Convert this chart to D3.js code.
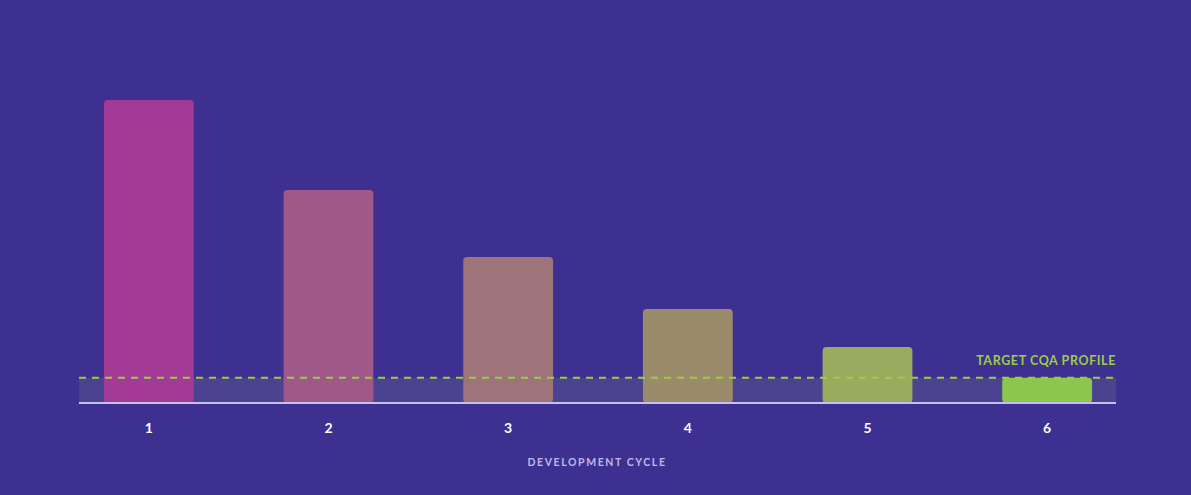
<!DOCTYPE html><html><head><meta charset="utf-8">
<script src="https://cdn.jsdelivr.net/npm/d3@7"></script>
<style>body{margin:0;background:#3d3090;}text{font-family:Lato,sans-serif;}</style></head><body>
<svg id="c" width="1191" height="495"></svg>
<script>
const categories=["1","2","3","4","5","6"];
const values=[100,70.3,48.2,31.0,18.5,8.3];
const colors=["#a33a96","#a05888","#9e747a","#9a8c6a","#98ab5e","#8cc64c"];
const target=8.3;
const svg=d3.select("#c");
svg.append("rect").attr("width",1191).attr("height",495).attr("fill","#3d3090");
const x=d3.scaleBand().domain(categories).range([59,1137]).paddingInner(0.5).paddingOuter(0.25);
const y=d3.scaleLinear().domain([0,100]).range([403,100]);
svg.append("rect").attr("x",79).attr("width",1037).attr("y",y(target)).attr("height",y(0)-y(target)).attr("fill","#4b4390");
svg.selectAll(".b").data(values).join("rect").attr("x",(d,i)=>x(categories[i])).attr("width",x.bandwidth())
 .attr("y",d=>y(d)).attr("height",d=>y(0)-y(d)).attr("rx",4).attr("fill",(d,i)=>colors[i]);
svg.append("line").attr("x1",79).attr("x2",1116).attr("y1",y(target)).attr("y2",y(target))
 .attr("stroke","#9ccc48").attr("stroke-width",2).attr("stroke-dasharray","7,6");
svg.append("line").attr("x1",79).attr("x2",1116).attr("y1",y(0)).attr("y2",y(0)).attr("stroke","#c8c0ec").attr("stroke-width",2);
svg.append("text").attr("x",1116).attr("y",y(target)-13).attr("text-anchor","end").attr("fill","#9ccc48")
 .attr("font-size",12.5).attr("font-weight",700).attr("letter-spacing",0.6).text("TARGET CQA PROFILE");
const ax=svg.append("g").attr("transform","translate(0,403)").call(d3.axisBottom(x).tickSize(0).tickPadding(20));
ax.select(".domain").remove();
ax.selectAll("text").attr("fill","#fff").attr("font-size",14).attr("font-weight",700).style("font-family","Lato,sans-serif");
svg.append("text").attr("x",597).attr("y",466).attr("text-anchor","middle").attr("fill","#c0b8e6")
 .attr("font-size",10.5).attr("font-weight",700).attr("letter-spacing",1.6).text("DEVELOPMENT CYCLE");
</script></body></html>
